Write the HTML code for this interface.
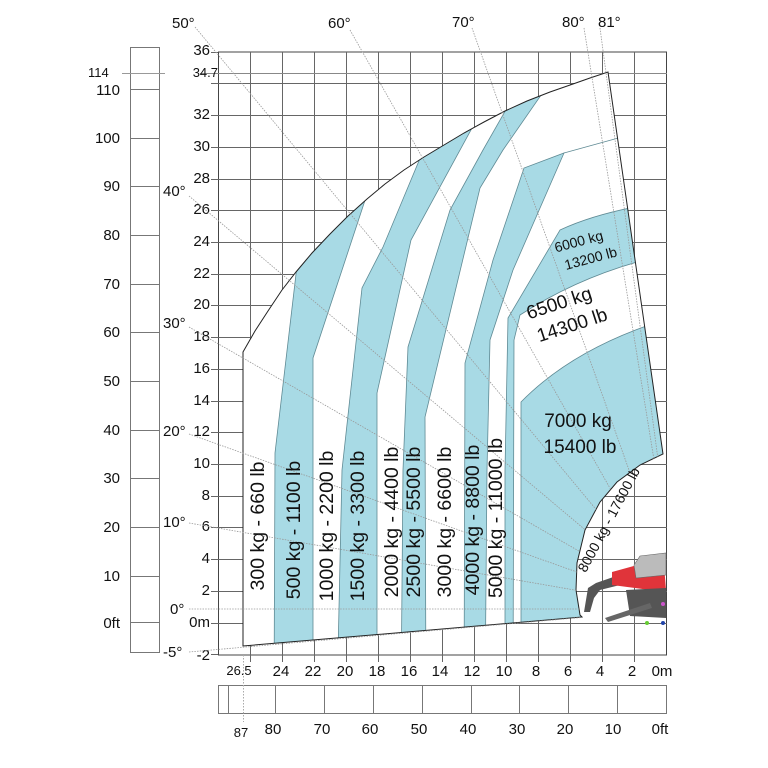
<!DOCTYPE html>
<html><head><meta charset="utf-8"><style>
html,body{margin:0;padding:0;background:#fff}
svg{display:block}
text{font-family:"Liberation Sans",sans-serif;fill:#111}
</style></head><body>
<svg width="768" height="768" viewBox="0 0 768 768" xmlns="http://www.w3.org/2000/svg">
<defs>
<clipPath id="env"><path d="M243,646 L243,352 L255,331 L268,311 L282,290 L296,272 L312,253 L330,234 L348,216 L367,199 L385,184 L404,170 L424,157 L444,145 L464,133 L484,122 L505,111 L527,101 L550,92 L573,84 L590,78 L608,72 L663,454 L640,465 L617,482 L600,502 L585,530 L577,563 L576,590 L580,615 L582,617 Z"/></clipPath>
<mask id="angm"><rect x="0" y="0" width="768" height="768" fill="#fff"/><path d="M663,454 L640,465 L617,482 L600,502 L585,530 L577,563 L576,590 L580,615 L580,640 L720,640 L720,454 Z" fill="#000"/></mask>
</defs>
<g stroke="#666" stroke-width="1" fill="none">
<rect x="218.5" y="52" width="448" height="603" stroke="#444"/>
<path d="M250.5,52V655M282.5,52V655M314.5,52V655M346.5,52V655M378.5,52V655M410.5,52V655M442.5,52V655M474.5,52V655M506.5,52V655M538.5,52V655M570.5,52V655M602.5,52V655M634.5,52V655"/>
<path d="M218,83.5H667M218,115.5H667M218,147.5H667M218,179.5H667M218,210.5H667M218,242.5H667M218,274.5H667M218,305.5H667M218,337.5H667M218,369.5H667M218,401.5H667M218,432.5H667M218,464.5H667M218,496.5H667M218,527.5H667M218,559.5H667M218,591.5H667M218,623.5H667"/>
<path d="M200,73.5H667" stroke="#888"/>
<path d="M211,52.5H218M211,83.5H218M211,115.5H218M211,147.5H218M211,179.5H218M211,210.5H218M211,242.5H218M211,274.5H218M211,305.5H218M211,337.5H218M211,369.5H218M211,401.5H218M211,432.5H218M211,464.5H218M211,496.5H218M211,527.5H218M211,559.5H218M211,591.5H218M211,623.5H218M211,654.5H218"/>
<path d="M250.5,655V662M282.5,655V662M314.5,655V662M346.5,655V662M378.5,655V662M410.5,655V662M442.5,655V662M474.5,655V662M506.5,655V662M538.5,655V662M570.5,655V662M602.5,655V662M634.5,655V662"/>
</g>
<g stroke="#777" stroke-width="1" fill="none">
<rect x="130.5" y="47.5" width="29" height="605"/>
<path d="M130,89.5H160M130,138.5H160M130,186.5H160M130,235.5H160M130,284.5H160M130,332.5H160M130,381.5H160M130,430.5H160M130,478.5H160M130,527.5H160M130,576.5H160M130,622.5H160"/>
<path d="M122,73.5H165" stroke="#999"/>
</g>
<g font-size="15" text-anchor="end">
<text x="120" y="95">110</text><text x="120" y="143">100</text><text x="120" y="191">90</text><text x="120" y="240">80</text><text x="120" y="289">70</text><text x="120" y="337">60</text><text x="120" y="386">50</text><text x="120" y="435">40</text><text x="120" y="483">30</text><text x="120" y="532">20</text><text x="120" y="581">10</text><text x="120" y="628">0ft</text>
</g>
<text x="88" y="77" font-size="13">114</text>
<g stroke="#777" stroke-width="1" fill="none">
<rect x="218.5" y="685.5" width="448" height="28"/>
<path d="M228.5,685V713M275.5,685V713M324.5,685V713M373.5,685V713M422.5,685V713M471.5,685V713M519.5,685V713M568.5,685V713M617.5,685V713"/>
<path d="M243.5,655V722" stroke="#aaa" stroke-dasharray="1.5,1.5"/>
</g>
<g font-size="15" text-anchor="middle">
<text x="273" y="734">80</text><text x="322" y="734">70</text><text x="370" y="734">60</text><text x="419" y="734">50</text><text x="468" y="734">40</text><text x="517" y="734">30</text><text x="565" y="734">20</text><text x="613" y="734">10</text><text x="660" y="734">0ft</text>
</g>
<text x="241" y="737" font-size="13" text-anchor="middle">87</text>
<g font-size="15" text-anchor="end">
<text x="210" y="55">36</text><text x="210" y="119">32</text><text x="210" y="151">30</text><text x="210" y="183">28</text><text x="210" y="214">26</text><text x="210" y="246">24</text><text x="210" y="278">22</text><text x="210" y="309">20</text><text x="210" y="341">18</text><text x="210" y="373">16</text><text x="210" y="405">14</text><text x="210" y="436">12</text><text x="210" y="468">10</text><text x="210" y="500">8</text><text x="210" y="531">6</text><text x="210" y="563">4</text><text x="210" y="595">2</text><text x="210" y="627">0m</text><text x="210" y="660">-2</text>
</g>
<text x="218" y="77" font-size="13" text-anchor="end">34.7</text>
<g font-size="15" text-anchor="middle">
<text x="281" y="676">24</text><text x="313" y="676">22</text><text x="345" y="676">20</text><text x="377" y="676">18</text><text x="409" y="676">16</text><text x="440" y="676">14</text><text x="472" y="676">12</text><text x="504" y="676">10</text><text x="536" y="676">8</text><text x="568" y="676">6</text><text x="600" y="676">4</text><text x="632" y="676">2</text><text x="662" y="676">0m</text>
</g>
<text x="239" y="675" font-size="13" text-anchor="middle">26.5</text>
<path d="M243,646 L243,352 L255,331 L268,311 L282,290 L296,272 L312,253 L330,234 L348,216 L367,199 L385,184 L404,170 L424,157 L444,145 L464,133 L484,122 L505,111 L527,101 L550,92 L573,84 L590,78 L608,72 L663,454 L640,465 L617,482 L600,502 L585,530 L577,563 L576,590 L580,615 L582,617 Z" fill="#fff"/>
<g clip-path="url(#env)" fill="#a8dae5" stroke="#5f8a94" stroke-width="0.8">
<path d="M300,240 L275,453 L274,700 L313,700 L313,358 L375,170 Z"/>
<path d="M436,120 L383,247 L362,288 L342,470 L337,700 L377,700 L377,393 L411,240 L490,95 Z"/>
<path d="M520,85 L483,150 L450,210 L408,347 L403,470 L401,700 L426,700 L425,417 L480,188 L503,150 L555,75 Z"/>
<path d="M524,168 L493,260 L465,363 L464,700 L485,700 L487,470 L490,340 L513,270 L564,153 Z"/>
<path d="M560,230 Q592,215 640,206 L652,258 Q580,276 520,315 L514,340 L513,700 L505,700 L505,470 L508,318 Z"/>
<path d="M521,402 Q570,352 652,324 L700,324 L700,700 L521,700 Z"/>
<path d="M564,153 L622,137" fill="none"/>
</g>
<path d="M243,646 L243,352 L255,331 L268,311 L282,290 L296,272 L312,253 L330,234 L348,216 L367,199 L385,184 L404,170 L424,157 L444,145 L464,133 L484,122 L505,111 L527,101 L550,92 L573,84 L590,78 L608,72 L663,454 L640,465 L617,482 L600,502 L585,530 L577,563 L576,590 L580,615 L582,617 Z" fill="none" stroke="#222" stroke-width="1"/>
<g mask="url(#angm)" stroke="#999" stroke-width="0.8" stroke-dasharray="1.5,1.2" fill="none">
<path d="M195,27 L678,608"/>
<path d="M350,30 L678,608"/>
<path d="M472,28 L678,608"/>
<path d="M584,28 L678,608"/>
<path d="M600,28 L678,608"/>
<path d="M189,196 L678,608"/>
<path d="M189,327 L678,608"/>
<path d="M189,434 L678,608"/>
<path d="M189,523 L678,608"/>
<path d="M189,609 L678,609"/>
<path d="M189,652 L678,609"/>
</g>
<g font-size="15">
<text x="172" y="28">50°</text><text x="328" y="28">60°</text><text x="452" y="27">70°</text><text x="562" y="27">80°</text><text x="598" y="27">81°</text>
<text x="163" y="196">40°</text><text x="163" y="328">30°</text><text x="163" y="436">20°</text><text x="163" y="527">10°</text><text x="170" y="614">0°</text><text x="163" y="657">-5°</text>
</g>
<g font-size="19.5" text-anchor="middle">
<text transform="translate(264,526) rotate(-90)">300 kg - 660 lb</text>
<text transform="translate(300,530) rotate(-90)">500 kg - 1100 lb</text>
<text transform="translate(333,526) rotate(-90)">1000 kg - 2200 lb</text>
<text transform="translate(364,526) rotate(-90)">1500 kg - 3300 lb</text>
<text transform="translate(398,522) rotate(-90)">2000 kg - 4400 lb</text>
<text transform="translate(420,522) rotate(-90)">2500 kg - 5500 lb</text>
<text transform="translate(451,522) rotate(-90)">3000 kg - 6600 lb</text>
<text transform="translate(479,520) rotate(-90)">4000 kg - 8800 lb</text>
<text transform="translate(502,518) rotate(-90)">5000 kg - 11000 lb</text>
</g>
<g font-size="14" text-anchor="middle">
<text transform="translate(580,246) rotate(-15)">6000 kg</text>
<text transform="translate(592,263) rotate(-15)">13200 lb</text>
</g>
<g font-size="19" text-anchor="middle">
<text transform="translate(561,309) rotate(-18)">6500 kg</text>
<text transform="translate(574,331) rotate(-18)">14300 lb</text>
<text x="578" y="427">7000 kg</text>
<text x="580" y="453">15400 lb</text>
</g>
<text transform="translate(613,522) rotate(-62)" font-size="14" text-anchor="middle">8000 kg - 17600 lb</text>
<g>
<path d="M584,612 L588,588 L596,583 L622,574 L624,584 L600,590 L594,598 L590,612 Z" fill="#555"/>
<path d="M612,572 L648,562 L664,565 L666,590 L650,590 L612,585 Z" fill="#e0343a"/>
<path d="M634,565 L640,556 L666,553 L666,575 L636,578 Z" fill="#bbb" stroke="#666" stroke-width="0.6"/>
<path d="M626,590 L666,588 L666,618 L630,616 Z" fill="#555"/>
<path d="M605,618 L650,603 L652,608 L608,622 Z" fill="#666"/>
<circle cx="647" cy="623" r="2" fill="#6c3"/>
<circle cx="663" cy="623" r="2" fill="#24a"/>
<circle cx="663" cy="604" r="2" fill="#c5c"/>
</g>
</svg>
</body></html>
